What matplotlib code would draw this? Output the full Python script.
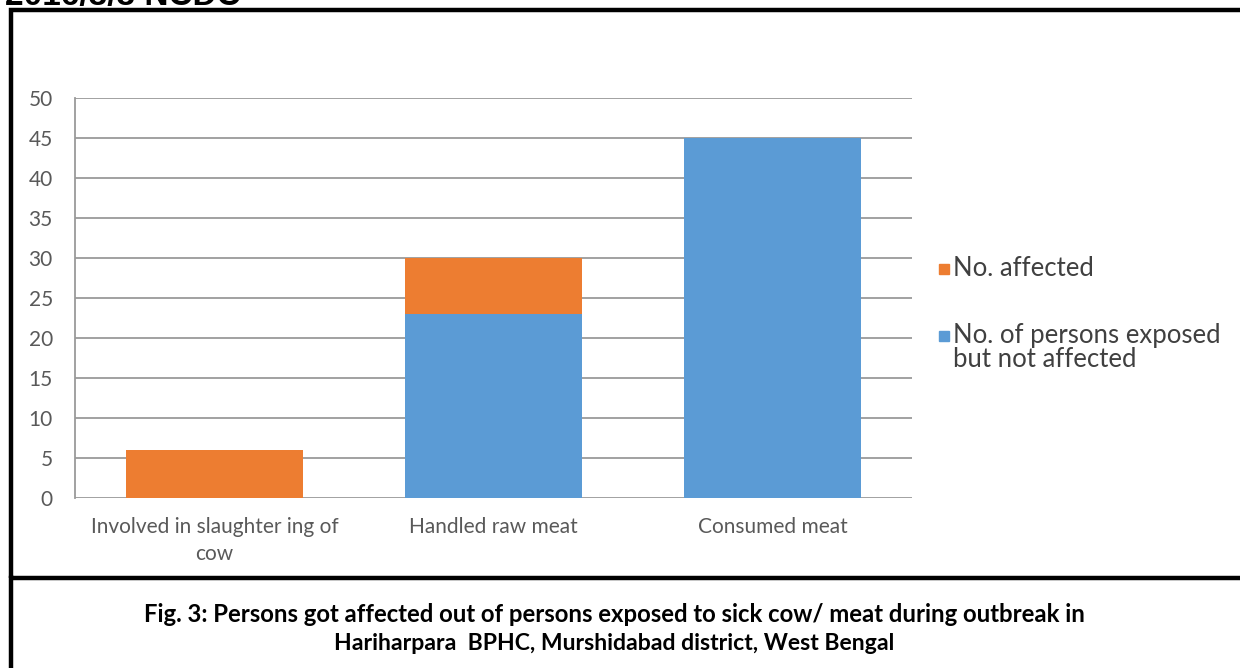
import matplotlib.pyplot as plt
from matplotlib.patches import Rectangle

# data
categories = ['Involved in slaughter ing of\ncow', 'Handled raw meat', 'Consumed meat']
not_affected = [0, 23, 45]
affected = [6, 7, 0]
y_ticks = [0, 5, 10, 15, 20, 25, 30, 35, 40, 45, 50]
legend_labels = ['No. affected', 'No. of persons exposed\nbut not affected']

blue = '#5B9BD5'
orange = '#ED7D31'
tick_grey = '#595959'

plt.rcParams['font.family'] = ['Lato', 'DejaVu Sans']

fig = plt.figure(figsize=(12.4, 6.68), dpi=100)
W, H = 1240, 668

def fx(px):
    return px / W

def fy(py):
    return 1 - py / H

ax = fig.add_axes([fx(75), fy(498), (912 - 75) / W, 400 / H])
x = list(range(len(categories)))
ax.bar(x, not_affected, width=0.635, color=blue, zorder=3)
ax.bar(x, affected, width=0.635, bottom=not_affected, color=orange, zorder=3)

ax.set_xlim(-0.5, 2.5)
ax.set_ylim(0, 50)
ax.set_yticks(y_ticks)
ax.set_xticks(x)
ax.set_xticklabels(categories, linespacing=1.4)
ax.yaxis.grid(True, color='#9a9a9a', linewidth=1.3, zorder=0)
for s in ['top', 'right', 'bottom']:
    ax.spines[s].set_visible(False)
ax.spines['left'].set_color('#9a9a9a')
ax.spines['left'].set_linewidth(1.3)
ax.tick_params(axis='both', length=0, labelsize=15, labelcolor=tick_grey)
ax.tick_params(axis='y', pad=16)
ax.tick_params(axis='x', pad=14)

# legend, Excel style: square next to the first line of each label
legend_colors = [orange, blue]
legend_y = [269, 336]
for lab, col, ly in zip(legend_labels, legend_colors, legend_y):
    fig.add_artist(Rectangle((fx(939), fy(ly + 5)), 10 / W, 10 / H,
                             transform=fig.transFigure, color=col))
    fig.text(fx(953), fy(ly - 13), lab, fontsize=18.5, color='#404040',
             ha='left', va='top', linespacing=0.95)

# page frame around the chart and caption box
fig.add_artist(Rectangle((fx(11), fy(578)), 1.0, (578 - 10) / H, transform=fig.transFigure,
                         fill=False, edgecolor='black', linewidth=3.2))
fig.add_artist(plt.Line2D([fx(11), fx(11)], [0, fy(578)], transform=fig.transFigure,
                          color='black', linewidth=3.2))

fig.text(fx(5), fy(5), '2016/3/3 NCDC', fontsize=24, fontweight='bold',
         family='Liberation Sans', va='baseline', ha='left')
fig.text(fx(614), fy(614),
         'Fig. 3: Persons got affected out of persons exposed to sick cow/ meat during outbreak in',
         fontsize=17.2, fontweight='bold', ha='center', va='center')
fig.text(fx(614), fy(644), 'Hariharpara  BPHC, Murshidabad district, West Bengal',
         fontsize=16.6, fontweight='bold', ha='center', va='center')

fig.savefig('out.png', dpi=100)
